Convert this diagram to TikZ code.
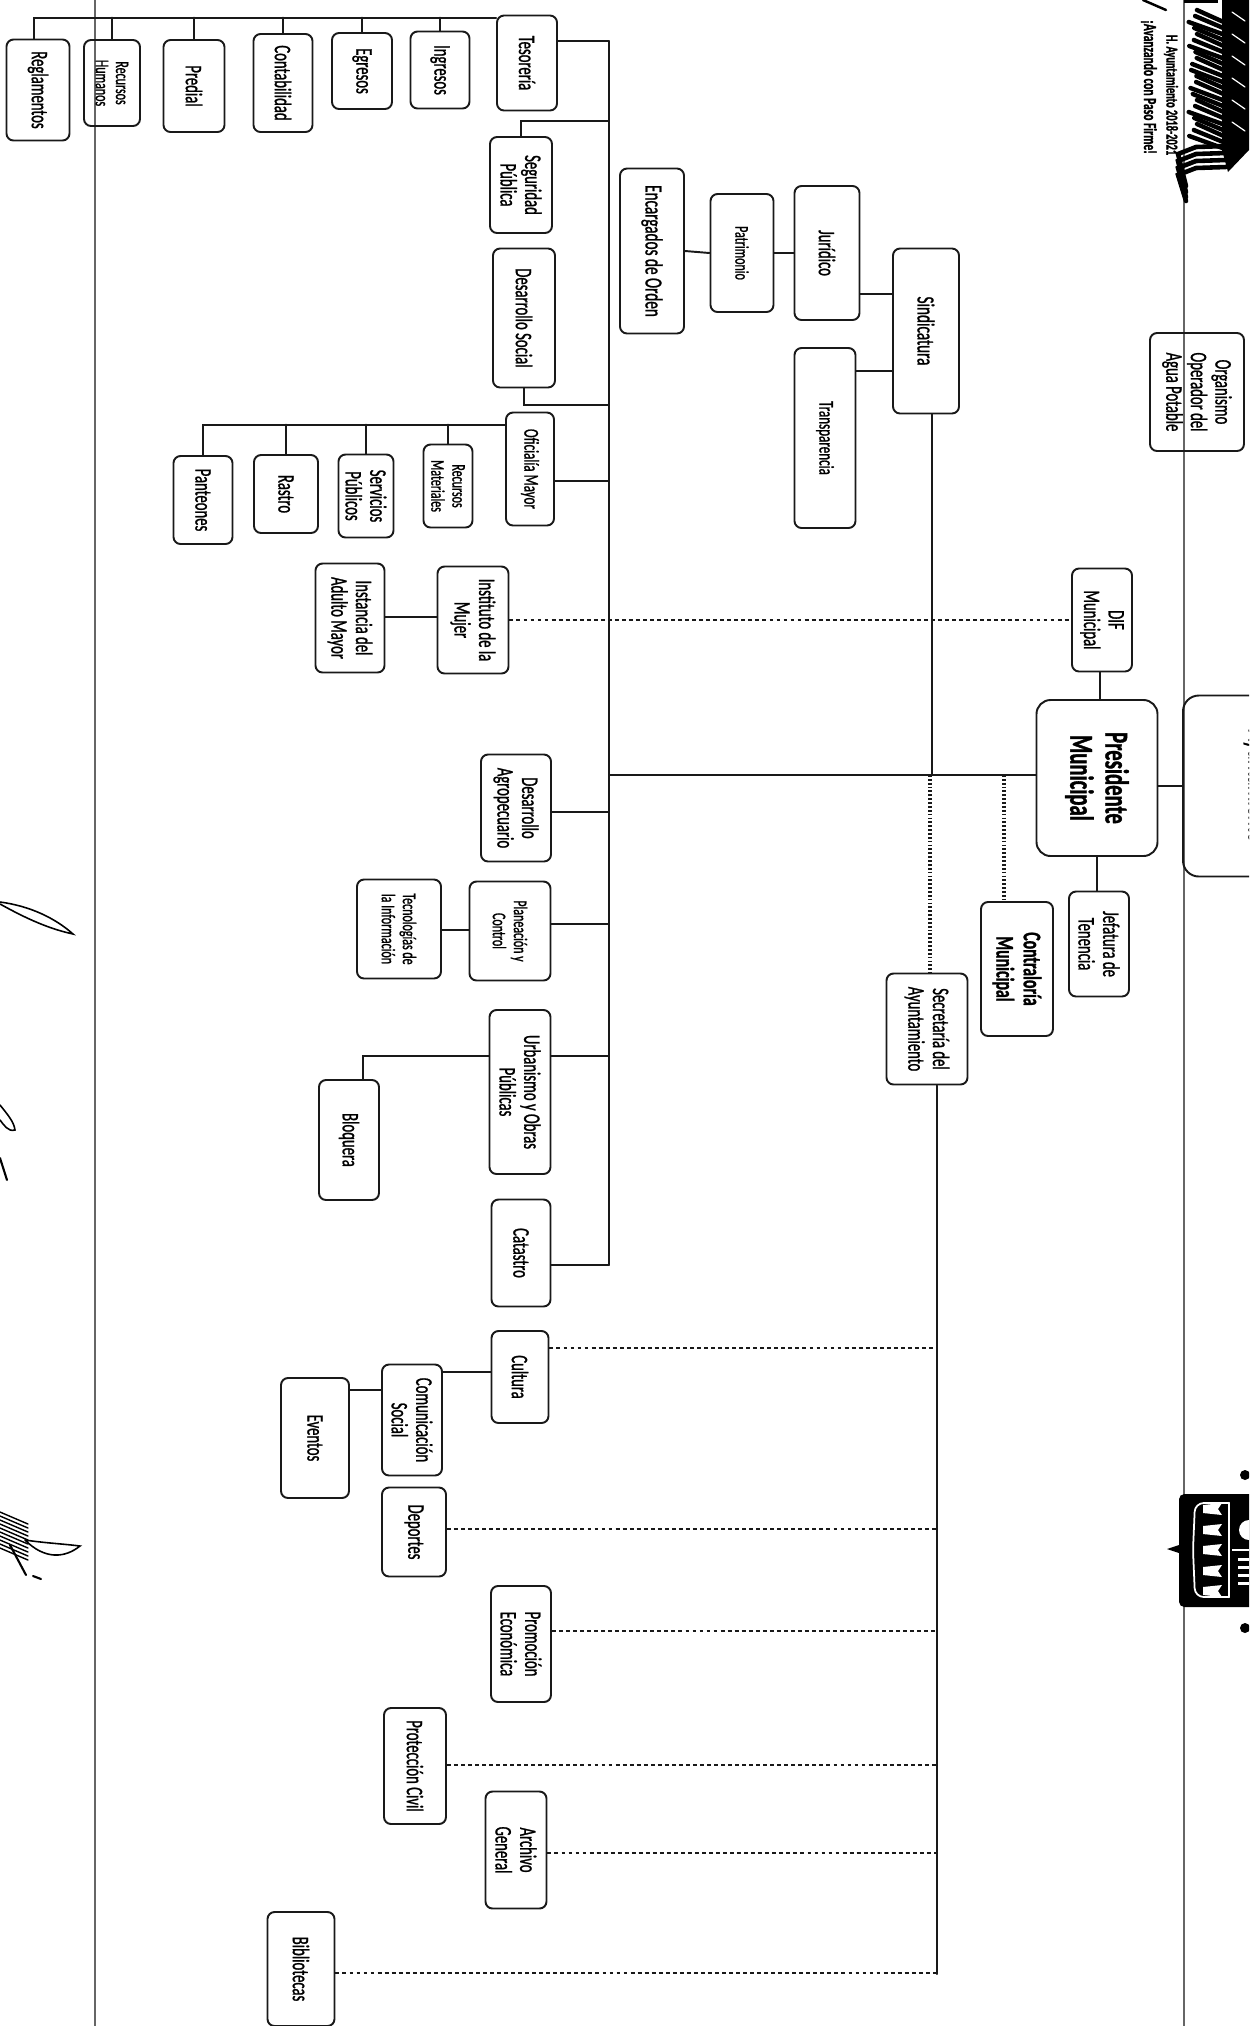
\documentclass[tikz,border=0pt]{standalone}
\usepackage{fontspec}
\setmainfont[FakeStretch=0.62,FakeBold=1]{Carlito}
\usepackage{tikz}
\usetikzlibrary{calc}

\begin{document}
\begin{tikzpicture}[
      x=0.02cm, y=-0.02cm, line cap=round,
      blk/.style={draw=black!90, line width=1.1pt, rounded corners=4pt, rotate=-90, inner sep=0pt, align=center, font=\fontsize{13.5}{14}\selectfont},
      sz/.style 2 args={minimum width=#1*0.02cm, minimum height=#2*0.02cm},
      lnk/.style={draw=black!90, line width=1.1pt},
      dsh/.style={draw=black!90, line width=1.2pt, dash pattern=on 2.2pt off 1.8pt, line cap=butt},
      dot/.style={draw=black!90, line width=1.8pt, dash pattern=on 1pt off 1.2pt, line cap=butt},
      rule/.style={draw=black!60, line width=0.8pt}]
    \clip (0,0) rectangle (1249,2026);
    % margins of the sheet
    \draw[rule] (95,0) -- (95,2026);
    \draw[rule, line width=1.1pt] (1184,0) -- (1184,2026);
    % top of the chart
    \node[blk, sz={181}{148}, rounded corners=9pt, font=\fontsize{18}{19}\selectfont] (ayu) at (1257,786) {Ayuntamiento};
    \node[blk, sz={156}{121}, rounded corners=8pt, font=\fontsize{19}{20}\selectfont\bfseries] (pre) at (1097,778) {Presidente\\Municipal};
    \node[blk, sz={118}{94}] (oop) at (1197,392) {Organismo\\Operador del\\Agua Potable};
    \node[blk, sz={103}{60}] (dif) at (1102,620) {DIF\\Municipal};
    \node[blk, sz={105}{60}] (jef) at (1099,944) {Jefatura de\\Tenencia};
    \node[blk, sz={134}{72}, font=\fontsize{14.5}{15.5}\selectfont\bfseries] (con) at (1017,969) {Contraloría\\Municipal};
    \node[blk, sz={111}{81}] (sec) at (927,1029) {Secretaría del\\Ayuntamiento};
    % sindicatura
    \node[blk, sz={165}{66}, font=\fontsize{14}{15}\selectfont] (sin) at (926,331) {Sindicatura};
    \node[blk, sz={134}{65}] (jur) at (827,253) {Jurídico};
    \node[blk, sz={180}{61}, font=\fontsize{12}{13}\selectfont] (tra) at (825,438) {Transparencia};
    \node[blk, sz={118}{63}, font=\fontsize{11}{12}\selectfont] (pat) at (742,253) {Patrimonio};
    \node[blk, sz={165}{64}, font=\fontsize{14}{15}\selectfont] (enc) at (652,251) {Encargados de Orden};
    % tesoreria
    \node[blk, sz={95}{60}] (tes) at (527,63) {Tesorería};
    \node[blk, sz={77}{59}] (ing) at (440,70) {Ingresos};
    \node[blk, sz={76}{60}] (egr) at (362,71) {Egresos};
    \node[blk, sz={98}{59}] (cnt) at (283,83) {Contabilidad};
    \node[blk, sz={92}{61}] (prd) at (194,86) {Predial};
    \node[blk, sz={86}{56}, font=\fontsize{11}{11.5}\selectfont] (rhu) at (112,83) {Recursos\\Humanos};
    \node[blk, sz={101}{63}] (reg) at (38,90) {Reglamentos};
    \node[blk, sz={96}{62}] (seg) at (521,185) {Seguridad\\Pública};
    \node[blk, sz={139}{62}] (dso) at (524,318) {Desarrollo Social};
    % oficialia
    \node[blk, sz={113}{48}, font=\fontsize{12}{13}\selectfont] (ofm) at (530,469) {Oficialía Mayor};
    \node[blk, sz={83}{49}, font=\fontsize{11}{12}\selectfont] (rma) at (448,486) {Recursos\\Materiales};
    \node[blk, sz={83}{55}] (spu) at (366,496) {Servicios\\Públicos};
    \node[blk, sz={78}{64}] (ras) at (286,494) {Rastro};
    \node[blk, sz={88}{59}] (pan) at (203,500) {Panteones};
    \node[blk, sz={107}{71}] (imu) at (473,620) {Instituto de la\\Mujer};
    \node[blk, sz={109}{69}] (iam) at (350,618) {Instancia del\\Adulto Mayor};
    % direcciones
    \node[blk, sz={107}{70}] (agr) at (516,808) {Desarrollo\\Agropecuario};
    \node[blk, sz={99}{81}, font=\fontsize{11}{12}\selectfont] (pla) at (510,931) {Planeación y\\Control};
    \node[blk, sz={99}{84}, font=\fontsize{11}{12}\selectfont] (tic) at (399,929) {Tecnologías de\\la Información};
    \node[blk, sz={164}{61}] (urb) at (520,1092) {Urbanismo y Obras\\Públicas};
    \node[blk, sz={120}{60}] (blo) at (349,1140) {Bloquera};
    \node[blk, sz={107}{59}] (cat) at (521,1253) {Catastro};
    % dependencias de secretaria
    \node[blk, sz={92}{57}] (cul) at (520,1377) {Cultura};
    \node[blk, sz={111}{60}] (com) at (412,1420) {Comunicación\\Social};
    \node[blk, sz={120}{68}] (eve) at (315,1438) {Eventos};
    \node[blk, sz={89}{64}] (dep) at (414,1532) {Deportes};
    \node[blk, sz={116}{60}] (pro) at (521,1644) {Promoción\\Económica};
    \node[blk, sz={116}{62}] (pci) at (415,1766) {Protección Civil};
    \node[blk, sz={117}{61}] (arc) at (516,1850) {Archivo\\General};
    \node[blk, sz={114}{67}] (bib) at (301,1969) {Bibliotecas};
    % free corners of the lines
    \coordinate (bus) at (609,775);
    \coordinate (sbus) at (937,1974);
    \coordinate (ttop) at (34,18);
    \coordinate (otop) at (203,425);
    \coordinate (cjoin) at (1004,775);
    \coordinate (sjoin) at (930,775);
    \coordinate (sintop) at (932,0);
    \coordinate (bcorner) at (363,1056);
    % presidente
    \draw[lnk] (pre.north |- ayu) -- (ayu.south |- ayu);
    \draw[lnk] (dif.east -| 1100,0) -- (pre.west -| 1100,0);
    \draw[lnk, line width=1.6pt] (pre.east) -- (jef.west -| pre.east);
    \draw[lnk] (pre.south |- bus) -- (bus);
    \draw[dot] (cjoin) -- (cjoin |- con.west);
    \draw[dot] (sjoin) -- (sjoin |- sec.west);
    \draw[lnk] (sintop |- sin.east) -- (sintop |- bus);
    \draw[dsh] (imu.north) -- (dif.south);
    % sindicatura
    \draw[lnk] (sin.south |- 0,294) -- (jur.north |- 0,294);
    \draw[lnk] (sin.south |- 0,371) -- (tra.north |- 0,371);
    \draw[lnk] (jur.south) -- (pat.north);
    \draw[lnk] (pat.south) -- (enc.north);
    % bus
    \draw[lnk] (bus |- 0,41) -- (bus |- 0,1265);
    \foreach \n/\y in {tes/41,ofm/481,agr/812,pla/924,urb/1056,cat/1265}
      \draw[lnk] (\n.north |- 0,\y) -- (bus |- 0,\y);
    \draw[lnk] (seg.west) -- (seg.west |- 0,121) -- (bus |- 0,121);
    \draw[lnk] (dso.east) -- (dso.east |- 0,405) -- (bus |- 0,405);
    % tesoreria
    \draw[lnk] (tes.south |- ttop) -- (ttop) -- (ttop |- reg.west);
    \foreach \n in {ing,egr,cnt,prd,rhu}
      \draw[lnk, line width=1.6pt] (\n.west) -- (\n.west |- ttop);
    % oficialia
    \draw[lnk] (ofm.south |- otop) -- (otop) -- (pan.west);
    \foreach \n in {ras,spu,rma}
      \draw[lnk, line width=1.6pt] (\n.west) -- (\n.west |- otop);
    \draw[lnk] (imu.south |- 0,617) -- (iam.north |- 0,617);
    % direcciones
    \draw[lnk] (pla.south |- 0,930) -- (tic.north |- 0,930);
    \draw[lnk] (urb.south |- bcorner) -- (bcorner) -- (bcorner |- blo.west);
    % secretaria
    \draw[lnk] (sbus |- sec.east) -- (sbus);
    \foreach \n/\y in {cul/1348,dep/1529,pro/1631,pci/1765,arc/1853,bib/1973}
      \draw[dsh] (\n.north |- 0,\y) -- (sbus |- 0,\y);
    \draw[lnk] (cul.south |- 0,1372) -- (com.north |- 0,1372);
    \draw[lnk] (com.south |- 0,1390) -- (eve.north |- 0,1390);
    % letterhead
    \node[rotate=-90, inner sep=0pt, font=\fontsize{9.5}{10}\selectfont\bfseries] (lem) at (1171,95) {H. Ayuntamiento 2018-2021};
    \node[rotate=-90, inner sep=0pt, font=\fontsize{10.5}{11}\selectfont\bfseries] (pas) at (1149,87) {¡Avanzando con Paso Firme!};
    \draw[line width=1.4pt] (1143,0) -- (1166,10);
    % eagle wing
    \fill (1222,0) -- (1249,0) -- (1249,150) -- (1228,172) -- (1222,150) -- cycle;
    \fill (1184,0) rectangle (1218,3);
    \foreach \y in {10,16,...,136} {
      \pgfmathsetmacro{\xs}{1188+9*abs(sin(\y*8))}
      \draw[line width=2.5pt] (\xs,\y) -- (1228,\y+14);
    }
    \foreach \y in {12,34,...,140}
      \draw[white, line width=0.7pt] (1232,\y) -- (1245,\y+9);
    \foreach \y/\e in {146/186,153/192,160/197,167/201}
      \draw[line width=2.6pt] (1226,\y) -- (1196,\y+1) -- (1178,\y+8) -- (1186,\e);
    % logo
    \fill[rounded corners=3pt] (1179,1494) rectangle (1262,1607);
    \fill (1167,1549) -- (1179,1545) -- (1179,1553) -- cycle;
    \draw[white, line width=1pt, rounded corners=5pt] (1229,1503) -- (1195,1503) -- (1193,1550) -- (1195,1597) -- (1229,1597);
    \draw[white, line width=1.4pt] (1229,1503) -- (1229,1597);
    \foreach \y in {1509,1530,1550,1571,1591}
      \fill[white] (1203,\y-4) -- (1222,\y-6) -- (1218,\y) -- (1222,\y+6) -- (1203,\y+4) -- cycle;
    \fill[white] (1249,1530) circle (10);
    \fill[white] (1232,1549) rectangle (1249,1551);
    \foreach \y in {1558,1566,1574,1582}
      \fill[white] (1238,\y) rectangle (1249,\y+3);
    \fill (1245,1475) circle (5);
    \fill (1245,1628) circle (5);
    % signature
    \draw[line width=0.9pt] (0,902) .. controls (30,906) and (55,918) .. (73,934) .. controls (45,928) and (20,915) .. (0,904);
    \draw[line width=0.9pt] (0,1105) .. controls (8,1115) and (14,1122) .. (15,1130) .. controls (8,1132) and (4,1125) .. (0,1120);
    \draw[line width=1.2pt] (0,1158) -- (7,1180);
    \foreach \y in {1512,1516,...,1550}
      \draw[line width=0.8pt] (0,\y) -- (28,\y+12);
    \draw[line width=0.9pt] (25,1540) .. controls (45,1543) and (65,1544) .. (80,1546) .. controls (65,1558) and (45,1560) .. (25,1540);
    \draw[line width=1.2pt] (10,1545) -- (26,1575);
    \draw[line width=1.2pt] (33,1576) -- (41,1579);
\end{tikzpicture}
\end{document}
